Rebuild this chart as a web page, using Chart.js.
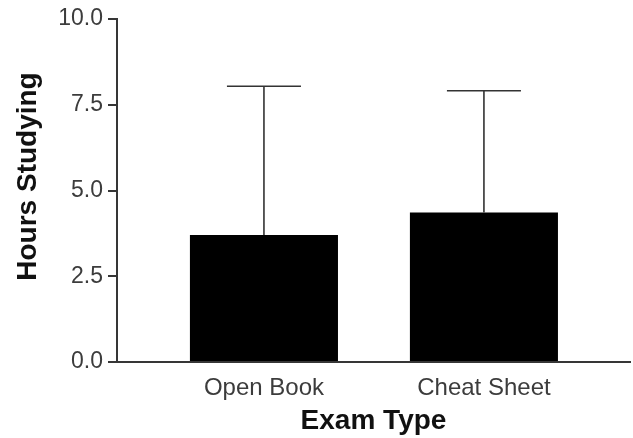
<!DOCTYPE html>
<html>
<head>
<meta charset="utf-8">
<script src="https://cdn.jsdelivr.net/npm/chart.js@4"></script>
<style>
  html, body { margin: 0; padding: 0; background: #ffffff; }
  #wrap { width: 633px; height: 438px; position: relative; }
</style>
</head>
<body>
<div id="wrap"><canvas id="c" width="633" height="438"></canvas></div>
<script>
const categories = ['Open Book', 'Cheat Sheet'];
const meanHours = [3.7, 4.36];
const upperError = [8.04, 7.91];
const yTicks = [0, 2.5, 5, 7.5, 10];
const xTitle = 'Exam Type';
const yTitle = 'Hours Studying';

const FONT = "'Liberation Sans', Arial, Helvetica, sans-serif";
const AXIS_COLOR = '#363636';

const errorBarPlugin = {
  id: 'errorBars',
  afterDatasetsDraw(chart) {
    const ctx = chart.ctx;
    const xs = chart.scales.x, ys = chart.scales.y;
    const meta = chart.getDatasetMeta(0);
    ctx.save();
    ctx.strokeStyle = '#333333';
    ctx.lineWidth = 1.6;
    meanHours.forEach((v, i) => {
      const x = xs.getPixelForValue(i + 1);
      const yb = ys.getPixelForValue(v);
      const yt = ys.getPixelForValue(upperError[i]);
      const half = meta.data[i].width / 4;
      ctx.beginPath();
      ctx.moveTo(x, yb);
      ctx.lineTo(x, yt);
      ctx.moveTo(x - half, yt);
      ctx.lineTo(x + half, yt);
      ctx.stroke();
    });
    ctx.restore();
  }
};

// y-axis title, drawn slightly above the axis centre as in the reference
const yTitlePlugin = {
  id: 'yTitle',
  afterDraw(chart) {
    const ctx = chart.ctx;
    const ca = chart.chartArea;
    ctx.save();
    ctx.translate(36, (ca.top + ca.bottom) / 2 - 14);
    ctx.rotate(-Math.PI / 2);
    ctx.font = "bold 28px " + FONT;
    ctx.fillStyle = '#111111';
    ctx.textAlign = 'center';
    ctx.textBaseline = 'alphabetic';
    ctx.fillText(yTitle, 0, 0);
    ctx.restore();
  }
};

new Chart(document.getElementById('c'), {
  type: 'bar',
  data: {
    datasets: [{
      data: meanHours.map((v, i) => ({ x: i + 1, y: v })),
      backgroundColor: '#000000',
      borderWidth: 0,
      categoryPercentage: 1,
      barPercentage: 0.673
    }]
  },
  plugins: [errorBarPlugin, yTitlePlugin],
  options: {
    responsive: false,
    animation: false,
    layout: { padding: { top: 19, right: 3, left: 0, bottom: 0 } },
    plugins: { legend: { display: false }, tooltip: { enabled: false } },
    scales: {
      x: {
        type: 'linear',
        offset: false,
        min: 0.332,
        max: 2.664,
        afterBuildTicks: (s) => { s.ticks = categories.map((c, i) => ({ value: i + 1 })); },
        afterFit: (s) => { s.height = 76; },
        grid: { display: false, drawTicks: false, offset: false },
        border: { display: true, color: AXIS_COLOR, width: 2 },
        ticks: {
          autoSkip: false,
          maxRotation: 0,
          padding: 12,
          color: '#3c3c3c',
          font: { family: FONT, size: 24 },
          callback: (v) => categories[v - 1] ?? ''
        },
        title: {
          display: true,
          text: xTitle,
          color: '#111111',
          font: { family: FONT, size: 28, weight: 'bold' },
          padding: { top: 0, bottom: 0 }
        }
      },
      y: {
        min: 0,
        max: 10,
        afterBuildTicks: (s) => { s.ticks = yTicks.map(v => ({ value: v })); },
        afterFit: (s) => { s.width = 117; },
        grid: { display: true, drawOnChartArea: false, drawTicks: true, tickLength: 9, color: AXIS_COLOR, lineWidth: 2 },
        border: { display: true, color: AXIS_COLOR, width: 2 },
        ticks: {
          padding: 5,
          color: '#3c3c3c',
          font: { family: FONT, size: 23 },
          callback: (v) => Number(v).toFixed(1)
        },
        title: { display: false }
      }
    }
  }
});
</script>
</body>
</html>
